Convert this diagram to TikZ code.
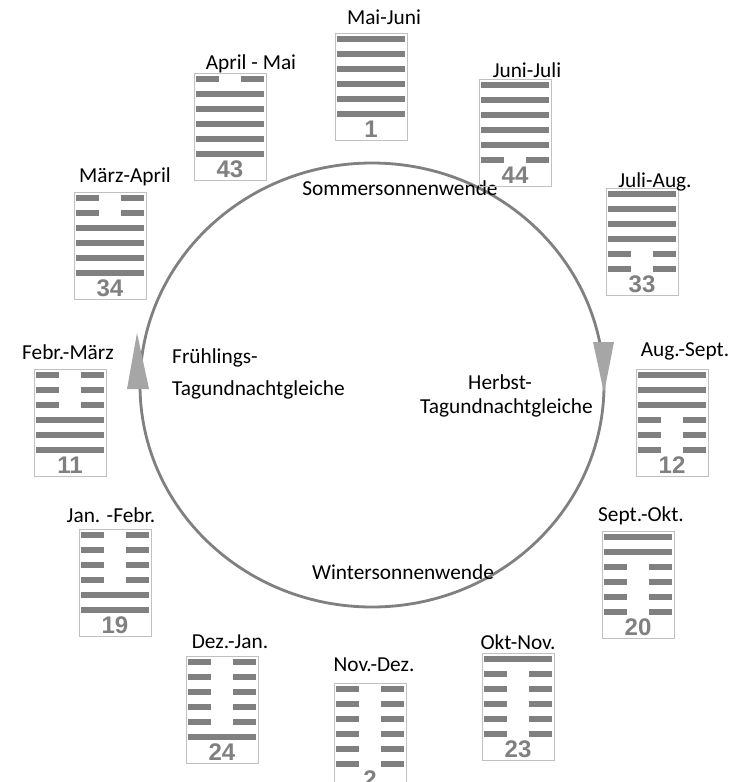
\documentclass[tikz,border=0pt]{standalone}
\usepackage{fontspec}
\setmainfont{Carlito}
\newfontfamily\numfont{Liberation Sans}
\usetikzlibrary{calc}
\definecolor{linegray}{HTML}{808080}
\definecolor{boxgray}{HTML}{C0C0C0}
\definecolor{arrowgray}{HTML}{A6A6A6}
\tikzset{
  lbl/.style={font=\fontsize{18.2}{21}\selectfont, inner sep=0pt},
  num/.style={font=\numfont\bfseries\fontsize{20.5}{22}\selectfont, text=linegray, inner sep=0pt}
}
% hexagram: box at (#1,#2), lines top to bottom (1 solid, 0 broken), number, label position, label
\def\hexagram(#1,#2)[#3]#4(#5)#6{
  \draw[boxgray, line width=0.8pt] (#1,#2) rectangle ++(72,107);
  \foreach \l [count=\i from 0] in {#3} {
    \ifnum\l=1
      \fill[linegray] ($(#1,#2)+(2,2.5+15*\i)$) rectangle ++(68,6.5);
    \else
      \fill[linegray] ($(#1,#2)+(2,2.5+15*\i)$) rectangle ++(23,6.5);
      \fill[linegray] ($(#1,#2)+(47,2.5+15*\i)$) rectangle ++(23,6.5);
    \fi
  }
  \node[num] (n#4) at ($(#1,#2)+(36,96)$) {#4};
  \node[lbl] (l#4) at (#5) {#6};
}

\begin{document}
\begin{tikzpicture}[x=0.03cm, y=-0.03cm]
  %%%%% START %%%%%
  \useasboundingbox (0,0) rectangle (734,782);

  \draw[linegray, line width=2.4pt] (372,385) ellipse [x radius=232, y radius=222];
  \fill[arrowgray] (593,342) -- (614,342) -- (604,393) -- cycle;
  \fill[arrowgray] (127,389) -- (149,389) -- (137,333) -- cycle;

  \node[lbl] (sommer) at (400,188) {Sommersonnenwende};
  \node[lbl] (winter) at (403,572) {Wintersonnenwende};
  \node[lbl, anchor=west] (fruehling) at (172,358) {Frühlings-};
  \node[lbl, anchor=west] (fruehtag) at (172,390) {Tagundnachtgleiche};
  \node[lbl, anchor=west] (herbst) at (468,382) {Herbst-};
  \node[lbl, anchor=west] (herbsttag) at (420,408) {Tagundnachtgleiche};

  \hexagram(335,33)[1,1,1,1,1,1]{1}(384,17){Mai-Juni}
  \hexagram(479,79)[1,1,1,1,1,0]{44}(527,70){Juni-Juli}
  \hexagram(606,188)[1,1,1,1,0,0]{33}(655,182){Juli-Aug.}
  \hexagram(636,369)[1,1,1,0,0,0]{12}(685,351){Aug.-Sept.}
  \hexagram(602,531)[1,1,0,0,0,0]{20}(641,516){Sept.-Okt.}
  \hexagram(482,653)[1,0,0,0,0,0]{23}(518,642){Okt-Nov.}
  \hexagram(334,683)[0,0,0,0,0,0]{2}(374,665){Nov.-Dez.}
  \hexagram(186,656)[0,0,0,0,0,1]{24}(230,642){Dez.-Jan.}
  \hexagram(79,529)[0,0,0,0,1,1]{19}(111,515){Jan. -Febr.}
  \hexagram(34,369)[0,0,0,1,1,1]{11}(68,352){Febr.-März}
  \hexagram(74,192)[0,0,1,1,1,1]{34}(125,177){März-April}
  \hexagram(194,73)[0,1,1,1,1,1]{43}(251,64){April - Mai}
  %%%%% END %%%%%
\end{tikzpicture}
\end{document}
